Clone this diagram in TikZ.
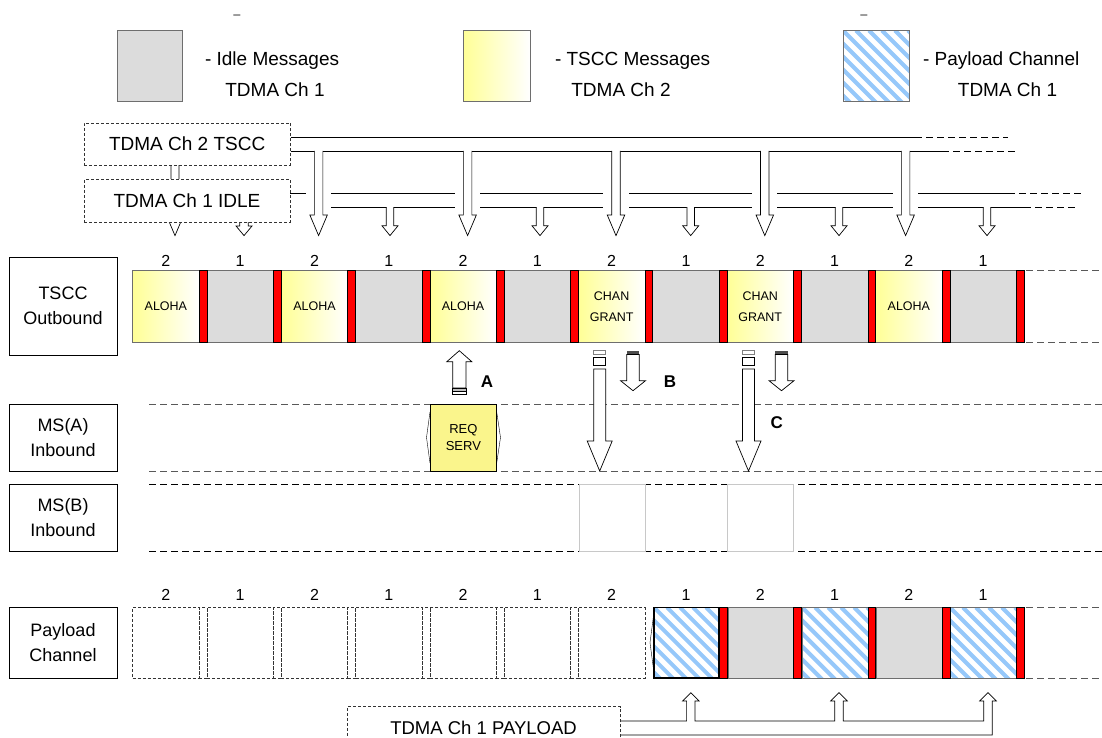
\documentclass[tikz,border=0pt]{standalone}
\usepackage{fontspec}
\setmainfont{Liberation Sans}
\usetikzlibrary{calc}
\definecolor{slotgrayc}{RGB}{220,220,220}
\definecolor{ylwc}{RGB}{255,255,150}
\definecolor{reqc}{RGB}{250,245,140}
\definecolor{hatchc}{RGB}{150,200,250}
\definecolor{edgec}{RGB}{110,110,110}
\definecolor{boxgrayc}{RGB}{200,200,200}
\newcommand\darrow[6]{%
  \path[hollow] ({#1-#5},#2) -- ({#1-#5},#3) -- ({#1-#6},#3) -- (#1,#4) -- ({#1+#6},#3) -- ({#1+#5},#3) -- ({#1+#5},#2);}
\newcommand\darrowc[6]{%
  \path[hollow] ({#1-#5},#2) -- ({#1-#5},#3) -- ({#1-#6},#3) -- (#1,#4) -- ({#1+#6},#3) -- ({#1+#5},#3) -- ({#1+#5},#2) -- cycle;}
\begin{document}
\begin{tikzpicture}[x=1pt,y=-1pt,
 every node/.style={inner sep=0pt,outer sep=0pt},
 lbl/.style={draw=black,line width=0.7pt,fill=white,align=center,font=\fontsize{18}{25}\selectfont},
 dbox/.style={draw=black!80,line width=0.6pt,dash pattern=on 3pt off 2pt,fill=white,font=\fontsize{19}{22}\selectfont},
 txt/.style={font=\fontsize{19}{22}\selectfont},
 num/.style={font=\fontsize{16}{18}\selectfont},
 small/.style={font=\fontsize{12.5}{21}\selectfont,align=center},
 graysl/.style={draw=edgec,line width=0.6pt,fill=slotgrayc,anchor=north west,minimum width=66.5pt},
 ylwsl/.style={draw=edgec,line width=0.6pt,left color=ylwc,right color=white,anchor=north west,minimum width=66.5pt},
 redsl/.style={draw=black,line width=0.5pt,fill=red,anchor=north west,minimum width=7.8pt},
 dsl/.style={draw=black!80,line width=0.6pt,dash pattern=on 3pt off 2pt,anchor=north west},
 rowline/.style={draw=black!65,line width=0.8pt,dash pattern=on 7pt off 4pt},
 hollow/.style={draw=black,line width=0.7pt,fill=white},
 barline/.style={draw=black,line width=0.8pt},
 lettr/.style={font=\bfseries\fontsize{17}{20}\selectfont},
 hatchfill/.style={fill=white,path picture={\foreach \k in {-7,...,7} \draw[hatchc,line width=4pt] ($(path picture bounding box.north west)+(\k*13,0)$) -- ++(85,85);}}
]
\useasboundingbox (0,0) rectangle (1102,738);

% ---------- legend ----------
\node[font=\fontsize{12}{14}\selectfont,anchor=base] (us1) at (237,14) {\_};
\node[font=\fontsize{12}{14}\selectfont,anchor=base] (us2) at (864,14) {\_};
\node[draw=edgec,line width=0.7pt,fill=slotgrayc,minimum width=65pt,minimum height=70.5pt] (lgray) at (149.5,65.7) {};
\node[txt,anchor=west] (lgt1) at (205,61) {- Idle Messages};
\node[txt] (lgt2) at (275,90) {TDMA Ch 1};
\node[draw=edgec,line width=0.7pt,left color=ylwc,right color=white,minimum width=67pt,minimum height=70.5pt] (lylw) at (496.5,65.7) {};
\node[txt,anchor=west] (lyt1) at (555,61) {- TSCC Messages};
\node[txt] (lyt2) at (621,90) {TDMA Ch 2};
\node[draw=edgec,line width=0.7pt,hatchfill,minimum width=66pt,minimum height=70.5pt] (lhat) at (876,65.7) {};
\node[txt,anchor=west] (lht1) at (923,61) {- Payload Channel};
\node[txt] (lht2) at (1007.5,90) {TDMA Ch 1};

% ---------- hidden arrows behind source boxes ----------
\darrow{175}{160}{215}{235.6}{4}{8.75}
\darrow{244}{215}{226}{235.6}{4.25}{8}

% ---------- TSCC bar ----------
\draw[barline] (290.5,137) -- (915,137);
\draw[barline,dash pattern=on 7pt off 4pt] (915,137) -- (1008,137);
\draw[barline] (290.5,151.4) -- (942,151.4);
\draw[barline,dash pattern=on 7pt off 4pt] (942,151.4) -- (1015,151.4);
% ---------- IDLE bar ----------
\draw[barline] (290,193.5) -- (1008,193.5);
\draw[barline,dash pattern=on 7pt off 4pt] (1008,193.5) -- (1083,193.5);
\draw[barline] (330,207.5) -- (1024,207.5);
\draw[barline,dash pattern=on 7pt off 4pt] (1024,207.5) -- (1075,207.5);
\foreach \c in {318.6,467.6,616,764.8,905.6} {
  \fill[white] ({\c-12.6},190) rectangle ({\c+12.6},211);
  \darrow{\c}{151}{215}{235.6}{4.25}{8.75}
}
\foreach \c in {390,540,690.7,839,987} {
  \darrow{\c}{207.1}{225.8}{235.6}{3.75}{8}
}

% ---------- source boxes ----------
\node[dbox,minimum width=206.5pt,minimum height=42pt] (srcT) at (187.2,144) {TDMA Ch 2 TSCC};
\node[dbox,minimum width=206pt,minimum height=42.5pt] (srcI) at (187,200.7) {TDMA Ch 1 IDLE};

% ---------- row labels ----------
\node[lbl,minimum width=108pt,minimum height=98pt] (lTSCC) at (63,306) {TSCC\\Outbound};
\node[lbl,minimum width=108pt,minimum height=67pt] (lMSA) at (63,437.5) {MS(A)\\Inbound};
\node[lbl,minimum width=108pt,minimum height=66.7pt] (lMSB) at (63,517.6) {MS(B)\\Inbound};
\node[lbl,minimum width=108pt,minimum height=71pt] (lPay) at (63,642.5) {Payload\\Channel};

% ---------- TSCC outbound row ----------
\foreach \i/\lab in {0/ALOHA,2/ALOHA,4/ALOHA,6/{CHAN\\GRANT},8/{CHAN\\GRANT},10/ALOHA} {
  \pgfmathsetmacro\sx{132.6+74.3*\i}
  \node[ylwsl,small,minimum height=71.6pt] (t\i) at (\sx,270.4) {\lab};
  \node[num] (tn\i) at ({\sx+33.25},260.5) {2};
}
\foreach \i in {1,3,...,11} {
  \pgfmathsetmacro\sx{132.6+74.3*\i}
  \node[graysl,minimum height=71.6pt] (t\i) at (\sx,270.4) {};
  \node[num] (tn\i) at ({\sx+33.25},260.5) {1};
}
\foreach \i in {0,...,11} {
  \pgfmathsetmacro\sx{132.6+74.3*\i+66.5}
  \node[redsl,minimum height=71.6pt] (tr\i) at (\sx,270.4) {};
}
\draw[rowline] (1026,270.4) -- (1100,270.4);
\draw[rowline] (1026,342) -- (1100,342);

% ---------- MS rows ----------
\draw[rowline] (149,404) -- (1102,404);
\draw[rowline] (149,471) -- (1102,471);
\draw[rowline,draw=black] (149,484.3) -- (1102,484.3);
\draw[rowline,draw=black] (149,551) -- (1102,551);
\node[draw=boxgrayc,line width=1pt,fill=white,minimum width=66.5pt,minimum height=66.7pt,anchor=north west] (gb1) at (579,484.3) {};
\node[draw=boxgrayc,line width=1pt,fill=white,minimum width=66pt,minimum height=66.7pt,anchor=north west] (gb2) at (727.7,484.3) {};

% REQ SERV
\draw[line width=0.4pt] (430,412) -- (426.5,437.5) -- (430,463);
\draw[line width=0.4pt] (496.7,412) -- (500.5,437.5) -- (496.7,463);
\node[draw=black,line width=0.8pt,fill=reqc,minimum width=66.7pt,minimum height=67pt,anchor=north west,align=center,font=\fontsize{13}{17}\selectfont] (req) at (430,404) {REQ\\SERV};

% arrow A
\darrowc{459.3}{388}{361.7}{350.7}{6.65}{12.5}
\draw[line width=0.5pt,fill=black!25] (452.7,388) rectangle (466,391);
\draw[line width=0.5pt,fill=white] (452.7,391) rectangle (466,394);
\node[lettr] (la) at (487,382) {A};

% arrows B
\draw[draw=black!50,line width=0.6pt] (593.7,350.7) rectangle (605.7,354);
\draw[line width=0.6pt] (593.7,357.3) rectangle (605.7,365.7);
\darrowc{599.7}{369}{441}{471}{6}{12.5}
\fill[black!70] (626.7,350.7) rectangle (639.3,354.5);
\darrowc{633}{354.5}{380.7}{390.7}{6.3}{12.5}
\node[lettr] (lb) at (670,381.7) {B};

% arrows C
\draw[draw=black!50,line width=0.6pt] (742.5,350.7) rectangle (754.5,354);
\draw[line width=0.6pt] (742.5,357.3) rectangle (754.5,365.7);
\darrowc{748.5}{369}{441}{471}{6}{12.5}
\fill[black!70] (775.2,350.7) rectangle (787.8,354.5);
\darrowc{781.5}{354.5}{380.7}{390.7}{6.3}{12.5}
\node[lettr] (lc) at (776.7,422.7) {C};

% ---------- payload row ----------
\foreach \i in {0,...,6} {
  \pgfmathsetmacro\sx{132.6+74.3*\i}
  \node[dsl,minimum width=66.5pt,minimum height=70.6pt] (p\i) at (\sx,607.4) {};
}
\foreach \i in {0,...,5} {
  \pgfmathsetmacro\sx{132.6+74.3*\i+66.5}
  \node[dsl,minimum width=7.8pt,minimum height=70.6pt] (ps\i) at (\sx,607.4) {};
}
\foreach \i in {0,2,...,10} {
  \pgfmathsetmacro\sx{132.6+74.3*\i}
  \node[num] (pn\i) at ({\sx+33.25},595) {2};
}
\foreach \i in {1,3,...,11} {
  \pgfmathsetmacro\sx{132.6+74.3*\i}
  \node[num] (pn\i) at ({\sx+33.25},595) {1};
}
\draw[line width=0.4pt] (654,612) -- (650,642.7) -- (654,673);
\node[draw=black,line width=1.2pt,hatchfill,minimum width=64.8pt,minimum height=70.6pt,anchor=north west] (p7) at (654,607.4) {};
\node[graysl,minimum height=70.6pt] (p8) at (728,607.4) {};
\node[draw=edgec,line width=0.6pt,hatchfill,minimum width=66.5pt,minimum height=70.6pt,anchor=north west] (p9) at (802.1,607.4) {};
\node[graysl,minimum height=70.6pt] (p10) at (876.4,607.4) {};
\node[draw=edgec,line width=0.6pt,hatchfill,minimum width=66.5pt,minimum height=70.6pt,anchor=north west] (p11) at (949.9,607.4) {};
\foreach \i in {7,...,11} {
  \pgfmathsetmacro\sx{132.6+74.3*\i+66.5}
  \node[redsl,minimum height=70.6pt] (pr\i) at (\sx,607.4) {};
}
\draw[rowline] (1026,607.4) -- (1100,607.4);
\draw[rowline] (1026,678) -- (1100,678);

% payload feed bar
\path[hollow] (620,721) -- (686.6,721) -- (686.6,701) -- (682.5,701) -- (690.8,692.7) -- (699.1,701) -- (695,701) -- (695,721)
  -- (834.8,721) -- (834.8,701) -- (830.7,701) -- (839,692.7) -- (847.3,701) -- (843.2,701) -- (843.2,721)
  -- (983.8,721) -- (983.8,701) -- (979.7,701) -- (988,692.7) -- (996.3,701) -- (992.2,701) -- (992.2,735) -- (620,735);
\node[dbox,minimum width=273pt,minimum height=42.6pt,font=\fontsize{18.5}{20}\selectfont] (srcP) at (483.5,728) {TDMA Ch 1 PAYLOAD};
\end{tikzpicture}
\end{document}
